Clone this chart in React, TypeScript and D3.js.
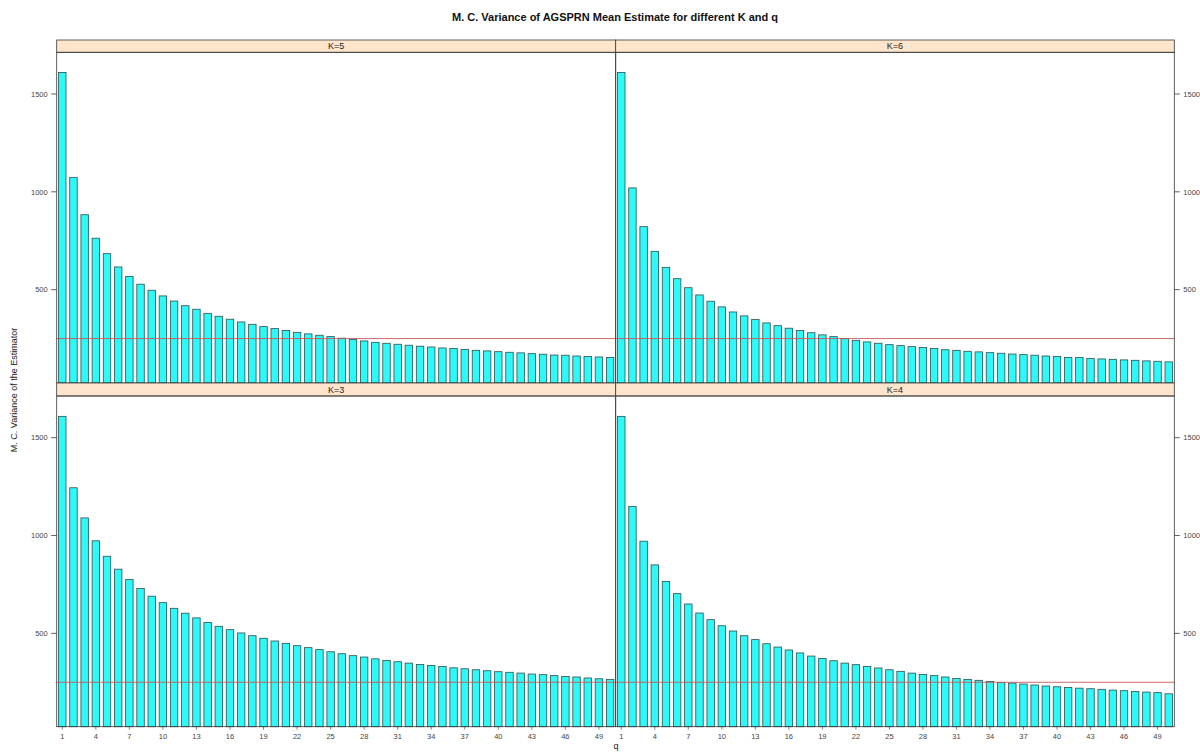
import React from "react";
import * as d3 from "d3";

const qValues: number[] = Array.from({ length: 50 }, (_, i) => i + 1);

const varK5: number[] = [1610, 1074, 883, 763, 684, 616, 567, 528, 497, 468, 442, 418, 400, 379, 364, 349, 335, 323, 311, 301, 291, 282, 274, 267, 260, 252, 245, 238, 231, 226, 221, 216, 211, 207, 202, 199, 195, 190, 187, 183, 180, 177, 173, 170, 166, 165, 161, 159, 156, 153];
const varK6: number[] = [1610, 1020, 822, 696, 614, 556, 510, 473, 441, 412, 386, 366, 347, 330, 316, 303, 291, 280, 269, 260, 250, 241, 233, 226, 219, 214, 209, 204, 199, 193, 190, 185, 182, 178, 175, 171, 168, 165, 161, 158, 154, 153, 149, 146, 144, 141, 139, 136, 134, 131];
const varK3: number[] = [1609, 1244, 1090, 973, 894, 828, 775, 729, 690, 657, 628, 603, 579, 556, 536, 519, 502, 488, 475, 461, 449, 437, 427, 417, 406, 396, 386, 379, 370, 362, 355, 348, 341, 336, 331, 324, 319, 314, 309, 304, 301, 297, 292, 289, 284, 280, 277, 272, 268, 265];
const varK4: number[] = [1609, 1148, 971, 850, 765, 703, 650, 604, 570, 539, 512, 488, 468, 447, 430, 415, 400, 384, 372, 360, 348, 340, 331, 323, 314, 306, 297, 290, 284, 277, 270, 265, 260, 254, 249, 246, 241, 236, 231, 227, 224, 220, 217, 214, 210, 207, 203, 200, 197, 191];

const refLine = 250;
const yTicks: number[] = [500, 1000, 1500];
const xTickLabels: number[] = [1, 4, 7, 10, 13, 16, 19, 22, 25, 28, 31, 34, 37, 40, 43, 46, 49];
const yDomain: [number, number] = [23, 1713];

const panels = [
  { label: "K=5", values: varK5, row: 0, col: 0 },
  { label: "K=6", values: varK6, row: 0, col: 1 },
  { label: "K=3", values: varK3, row: 1, col: 0 },
  { label: "K=4", values: varK4, row: 1, col: 1 },
];

const W = 1200;
const H = 753;
const colX = [56.7, 615.7, 1174.3];
const rows = [
  { stripTop: 40, top: 52.3, bottom: 383 },
  { stripTop: 383, top: 396, bottom: 726.7 },
];

const FONT = "'Liberation Sans', Arial, Helvetica, sans-serif";
const BORDER = "#3a3a3a";

export default function App() {
  return (
    <svg
      width={W}
      height={H}
      style={{ position: "absolute", left: 0, top: 0, background: "#fff" }}
      fontFamily={FONT}
    >
      <rect x={0} y={0} width={W} height={H} fill="#fff" />
      <text x={615} y={21} textAnchor="middle" fontSize={11} fontWeight="bold" fill="#111">
        M. C. Variance of AGSPRN Mean Estimate for different K and q
      </text>
      <text
        transform={`translate(17,390) rotate(-90)`}
        textAnchor="middle"
        fontSize={9}
        fill="#222"
      >
        M. C. Variance of the Estimator
      </text>
      <text x={616} y={749} textAnchor="middle" fontSize={9} fill="#222">q</text>

      {panels.map((p) => {
        const x0 = colX[p.col];
        const x1 = colX[p.col + 1];
        const r = rows[p.row];
        const x = d3
          .scaleBand<number>()
          .domain(qValues)
          .range([x0, x1])
          .paddingInner(1 / 3)
          .paddingOuter(1 / 6);
        const y = d3.scaleLinear().domain(yDomain).range([r.bottom, r.top]);
        const bw = x.bandwidth();
        return (
          <g key={p.label}>
            <rect x={x0} y={r.stripTop} width={x1 - x0} height={r.top - r.stripTop} fill="#ffe5cc" stroke={BORDER} strokeWidth={0.8} />
            <text x={(x0 + x1) / 2} y={r.top - 3} textAnchor="middle" fontSize={9} fill="#222">
              {p.label}
            </text>
            {p.values.map((v, i) => (
              <rect
                key={i}
                x={x(qValues[i])!}
                y={y(v)}
                width={bw}
                height={r.bottom - y(v)}
                fill="#2ef8f8"
                stroke="#2a5050"
                strokeWidth={0.8}
              />
            ))}
            <line x1={x0} x2={x1} y1={y(refLine)} y2={y(refLine)} stroke="#c85858" strokeWidth={0.9} />
            <rect x={x0} y={r.top} width={x1 - x0} height={r.bottom - r.top} fill="none" stroke={BORDER} strokeWidth={0.8} />
            {p.col === 0 &&
              yTicks.map((t) => (
                <g key={t}>
                  <line x1={x0 - 5.5} x2={x0} y1={y(t)} y2={y(t)} stroke={BORDER} strokeWidth={0.8} />
                  <text x={x0 - 9} y={y(t) + 2.8} textAnchor="end" fontSize={7.5} fill="#444">
                    {t}
                  </text>
                </g>
              ))}
            {p.col === 1 &&
              yTicks.map((t) => (
                <g key={t}>
                  <line x1={x1} x2={x1 + 5.5} y1={y(t)} y2={y(t)} stroke={BORDER} strokeWidth={0.8} />
                  <text x={x1 + 9} y={y(t) + 2.8} textAnchor="start" fontSize={7.5} fill="#444">
                    {t}
                  </text>
                </g>
              ))}
            {p.row === 1 &&
              xTickLabels.map((t) => {
                const cx = x(t)! + bw / 2;
                return (
                  <g key={t}>
                    <line x1={cx} x2={cx} y1={r.bottom} y2={r.bottom + 3} stroke={BORDER} strokeWidth={0.6} />
                    <text x={cx} y={r.bottom + 12} textAnchor="middle" fontSize={7.5} fill="#444">
                      {t}
                    </text>
                  </g>
                );
              })}
          </g>
        );
      })}
    </svg>
  );
}
